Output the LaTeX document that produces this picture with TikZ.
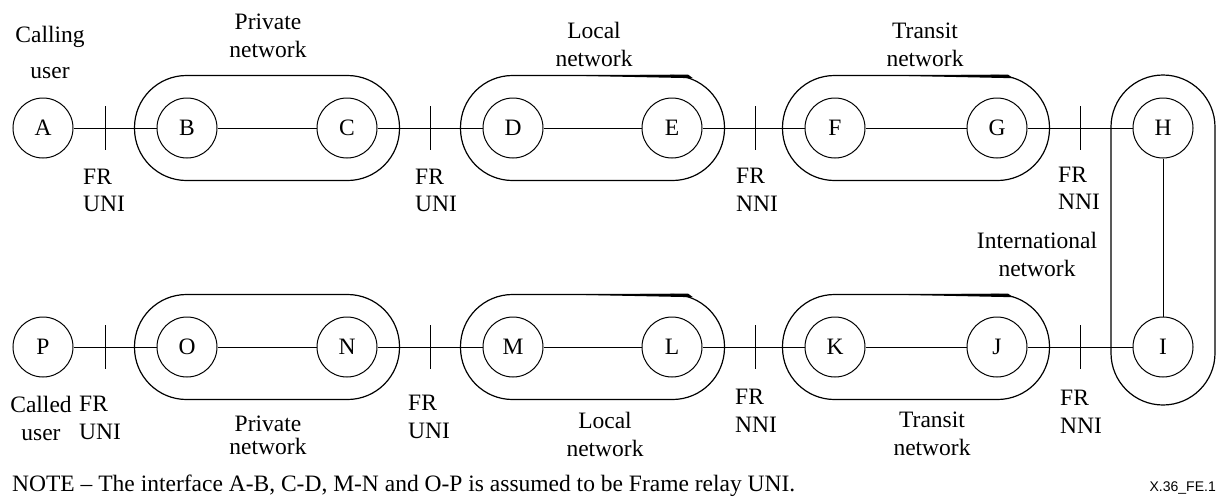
\documentclass[tikz,border=0pt]{standalone}
\usepackage{fontspec}
\setmainfont{Liberation Serif}
\newfontfamily\figfont{Liberation Sans}
\usetikzlibrary{calc}

\newcommand{\netoval}[3]% first node, last node, radius
{($(#1)+(-#3,-#3)$) rectangle ($(#2)+(#3,#3)$)
}
\newcommand{\frtick}[1]% interface point
{($(#1)+(0,-22)$) -- ($(#1)+(0,22)$)
}

\begin{document}
\begin{tikzpicture}[x=1pt,y=-1pt]

\tikzset{
  station/.style={draw, circle, minimum size=60pt, inner sep=0pt, line width=1pt,
    font=\fontsize{23.5}{28}\selectfont},
  lbl/.style={align=center, inner sep=0pt, anchor=north, font=\fontsize{23.5}{28}\selectfont},
  frlbl/.style={align=left, inner sep=0pt, anchor=north west, font=\fontsize{23.5}{27.5}\selectfont},
  netline/.style={line width=1pt},
  ring/.style={line width=1.2pt, rounded corners=52pt},
  sliver/.style={fill=black}
}

\useasboundingbox (0,0) rectangle (1216,501);

% calling side
\node[station] (A) at (43,128) {A};
\node[station] (B) at (187,128) {B};
\node[station] (C) at (347,128) {C};
\node[station] (D) at (513,128) {D};
\node[station] (E) at (672,128) {E};
\node[station] (F) at (835,128) {F};
\node[station] (G) at (997,128) {G};
\node[station] (H) at (1163,128) {H};

% called side
\node[station] (P) at (43,347) {P};
\node[station] (O) at (187,347) {O};
\node[station] (N) at (347,347) {N};
\node[station] (M) at (513,347) {M};
\node[station] (L) at (672,347) {L};
\node[station] (K) at (835,347) {K};
\node[station] (J) at (997,347) {J};
\node[station] (I) at (1163,347) {I};

\draw[ring] \netoval{B}{C}{52.5};
\draw[ring] \netoval{D}{E}{52.5};
\draw[ring] \netoval{F}{G}{52.5};
\draw[ring] \netoval{O}{N}{52.5};
\draw[ring] \netoval{M}{L}{52.5};
\draw[ring] \netoval{K}{J}{52.5};
\draw[ring] ($(H)+(-52,-53)$) rectangle ($(I)+(52,58)$);

\fill[sliver] (567,75.6) -- (688,74.6) -- (693,78.2) -- cycle;
\fill[sliver] (890,75.6) -- (1008,74.6) -- (1013,78.2) -- cycle;
\fill[sliver] (567,294.6) -- (688,293.6) -- (693,297.2) -- cycle;
\fill[sliver] (890,294.6) -- (1008,293.6) -- (1013,297.2) -- cycle;

\coordinate (uni1) at (105,128);
\coordinate (uni2) at (430,128);
\coordinate (nni1) at (755,128);
\coordinate (nni2) at (1080,128);
\coordinate (uni3) at (105,347);
\coordinate (uni4) at (430,347);
\coordinate (nni3) at (755,347);
\coordinate (nni4) at (1080,347);

\foreach \a/\b in {A/B,B/C,C/D,D/E,E/F,F/G,G/H,H/I,I/J,J/K,K/L,L/M,M/N,N/O,O/P}
  \draw[netline] (\a) -- (\b);
\foreach \t in {uni1,uni2,nni1,nni2,uni3,uni4,nni3,nni4}
  \draw[netline] \frtick{\t};

\node[lbl, font=\fontsize{23.5}{36}\selectfont] (calling) at (50,26) {Calling\\user};
\node[lbl] (priv1) at (268,13.5) {Private\\network};
\node[lbl] (loc1) at (594,21.5) {Local\\network};
\node[lbl] (tra1) at (925,22.5) {Transit\\network};
\node[frlbl] (fr1) at (83,168.5) {FR\\UNI};
\node[frlbl] (fr2) at (415,168.5) {FR\\UNI};
\node[frlbl] (fr3) at (736,168) {FR\\NNI};
\node[frlbl] (fr4) at (1058,166.5) {FR\\NNI};
\node[lbl] (intl) at (1037,231.5) {International\\network};

\node[lbl] (called) at (41,396) {Called\\user};
\node[frlbl] (fr5) at (79,396) {FR\\UNI};
\node[lbl, font=\fontsize{23.5}{23}\selectfont] (priv2) at (268,416) {Private\\network};
\node[frlbl] (fr6) at (408,395) {FR\\UNI};
\node[lbl] (loc2) at (605,412) {Local\\network};
\node[frlbl] (fr7) at (735,389) {FR\\NNI};
\node[lbl] (tra2) at (932,412) {Transit\\network};
\node[frlbl] (fr8) at (1060,390) {FR\\NNI};

\node[inner sep=0pt, anchor=base west, font=\fontsize{23.5}{28}\selectfont] (note) at (12,491) {NOTE -- The interface A-B, C-D, M-N and O-P is assumed to be Frame relay UNI.};
\node[anchor=base east, inner sep=0pt, font=\figfont\fontsize{14}{16}\selectfont] (tag) at (1216,491) {X.36\_FE.1};

\end{tikzpicture}
\end{document}
